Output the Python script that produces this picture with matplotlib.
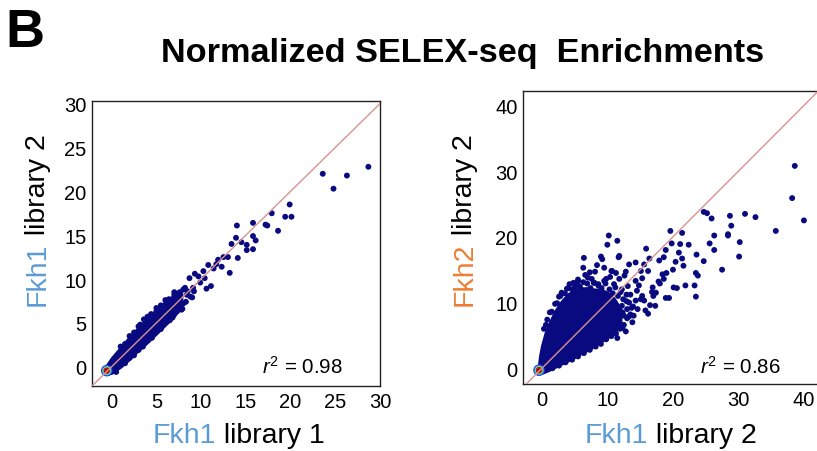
import numpy as np
import matplotlib.pyplot as plt

plt.rcParams['font.family'] = ['Liberation Sans', 'DejaVu Sans']
plt.rcParams['mathtext.fontset'] = 'custom'
plt.rcParams['mathtext.rm'] = 'Liberation Sans'
plt.rcParams['mathtext.it'] = 'Liberation Sans:italic'

# ---- data ----
# panel 1: Fkh1 library 1 (x) vs Fkh1 library 2 (y)
lib1_x = [28.7, 23.6, 26.3, 24.8, 19.9, 17.9, 19.4, 20.1, 17.2, 17.4, 18.6, 14.0,
          15.8, 13.4, 13.9, 14.5, 15.1, 15.8, 16.1, 15.8, 15.1, 14.1, 13.0, 12.5,
          11.9, 11.7, 13.2, 12.3, 11.4, 10.8, 10.25, 9.7, 8.7, 9.3, 9.9, 10.4,
          11.1, 10.6, 9.1, 8.0, 7.6, 8.4, 7.3, 6.1, 7.9, 6.9, 6.0, 5.0, 3.6,
          1.5, 2.5, 3.2, 4.4, 5.5, 6.4, 7.0, 6.5, 5.5, 4.5, 3.0, 2.0, 0.5, 7.5,
          8.3, 7.8, 8.8, 9.2, 6.8, 5.9,
          1.0, 2.0, 3.0, 4.0, 5.0, 6.0, 7.0, 1.5, 2.5, 3.5, 4.5, 5.5, 6.5, 7.3,
          8.0, 8.5, 9.0, 8.2]
lib1_y = [22.8, 22.0, 21.8, 20.3, 18.5, 17.5, 17.1, 17.1, 16.2, 16.1, 15.5, 16.1,
          16.4, 14.0, 14.7, 14.2, 13.9, 14.9, 14.4, 13.4, 13.3, 12.4, 12.5, 12.5,
          12.2, 11.7, 10.7, 11.4, 11.2, 11.6, 10.9, 10.3, 10.1, 10.6, 9.6, 10.1,
          9.2, 8.9, 9.0, 8.8, 8.5, 8.2, 7.8, 7.5, 6.6, 6.3, 6.5, 6.3, 5.4,
          2.6, 3.9, 4.8, 6.0, 7.0, 7.7, 8.2, 6.0, 4.6, 3.4, 1.9, 1.0, -0.6, 7.0,
          7.4, 6.5, 8.0, 8.6, 5.6, 5.0,
          2.3, 3.5, 4.6, 5.7, 6.7, 7.6, 8.5, 0.4, 1.3, 2.3, 3.3, 4.3, 5.3, 6.3,
          7.2, 8.6, 7.9, 9.0]
# dense core of panel 1 (lower / upper edge along x)
core1_x = [-0.8, -0.4, 0, 1, 2, 3, 4, 5, 6, 7, 7.8]
core1_lo = [-0.8, -0.8, -0.7, 0.0, 0.9, 1.9, 2.8, 3.8, 4.8, 5.8, 7.0]
core1_hi = [-0.2, 0.4, 1.0, 2.2, 3.4, 4.5, 5.5, 6.5, 7.4, 8.2, 8.4]
peak1 = (-0.55, -0.45)

# panel 2: Fkh1 library 2 (x) vs Fkh2 library 2 (y)
fkh_x = [38.6, 38.2, 40.0, 35.7, 31.0, 32.6, 28.7, 28.9, 28.4, 28.4, 30.2, 30.1,
         27.5, 24.7, 25.2, 25.9, 26.3, 25.6, 26.3, 24.7, 23.6, 23.5, 23.8, 23.5,
         23.3, 21.4, 19.6, 21.1, 22.4, 20.9, 19.8, 18.9, 18.6, 17.9, 21.4, 21.6,
         20.4, 21.9, 20.1, 18.9, 19.4, 18.4, 18.6, 17.4, 16.9, 17.3, 15.9, 16.4,
         15.6, 16.2, 15.1, 15.3, 14.3, 13.3, 14.3, 12.8, 12.6, 11.8, 13.1, 11.3,
         10.6, 10.2, 9.98, 11.5, 11.8, 11.7, 9.2, 8.4, 9.5, 10.7, 6.4, 9.0, 8.1,
         7.3, 7.6, 6.3, 5.5, 5.0, 3.8, 8.6, 9.8, 15.1, 15.8, 14.6, 14.3, 12.3,
         13.3, 11.3, 12.3, 15.3,
         14.0, 13.8, 12.8, 11.5, 16.2, 2.0, 1.2, 3.0, 4.2, 5.5, 7.0, 8.0, 9.5,
         11.0, 12.2, 13.5, 14.5, 15.6, 17.0, 14.8, 16.5, 17.8, 19.0, 20.0, 20.6,
         0.6, 2.6, 4.8, 6.6, 10.4, 12.9, 13.9, 16.8, 18.0,
         0.3, 0.8, 1.5, 2.3, 2.8, 3.5, 4.0, 4.6, 5.2, 5.8, 6.3, 6.9, 7.4, 7.9,
         8.6, 9.1, 9.7, 10.3, 10.8, 11.2, 11.6, 12.0, 12.4, 12.9, 13.3, 13.7,
         13.5, 13.0, 12.5, 11.9, 11.3, 10.6, 9.8, 9.0, 8.2, 7.3, 6.4, 5.5, 4.6,
         3.6, 2.6, 1.6, 10.5, 11.5, 12.2, 13.0, 11.0, 10.0, 12.5]
fkh_y = [30.8, 25.9, 22.5, 20.9, 23.5, 23.0, 23.2, 21.7, 20.4, 20.2, 19.2, 17.0,
         15.0, 23.8, 23.6, 22.8, 20.2, 19.0, 18.0, 16.3, 17.3, 14.5, 14.1, 10.9,
         12.6, 20.6, 20.9, 18.9, 18.8, 17.6, 19.0, 18.0, 16.9, 16.4, 16.7, 15.6,
         16.2, 12.6, 12.3, 10.7, 10.7, 14.3, 13.6, 11.5, 12.3, 9.5, 18.2, 16.7,
         15.8, 14.8, 14.8, 13.7, 13.3, 15.8, 16.1, 14.7, 14.1, 13.6, 12.5, 14.5,
         14.8, 20.2, 18.8, 19.4, 17.1, 16.9, 16.6, 15.7, 15.3, 14.8, 16.8, 17.0, 14.7,
         14.6, 13.6, 15.3, 13.2, 12.3, 12.1, 12.6, 13.6, 10.5, 8.8, 9.0, 10.3, 8.5,
         7.9, 6.7, 6.1, 11.0,
         8.0, 7.0, 5.6, 4.6, 8.3, 9.8, 8.5, 11.5, 12.8, 13.5, 13.8, 13.0, 13.3,
         12.8, 12.0, 11.2, 11.8, 10.3, 11.0, 12.6, 9.6, 13.2, 14.5, 15.0, 12.2,
         6.6, 10.9, 13.0, 14.2, 13.9, 10.2, 9.4, 11.6, 12.9,
         6.0, 7.4, 8.6, 9.9, 11.0, 11.4, 12.2, 12.0, 12.9, 12.4, 13.1, 12.9, 12.2,
         13.0, 12.8, 12.2, 12.9, 12.0, 11.4, 12.3, 11.0, 11.6, 10.5, 11.2, 10.0,
         9.2, 8.2, 7.6, 6.6, 6.0, 5.3, 4.9, 4.4, 3.7, 3.3, 2.8, 2.3, 1.8, 1.3,
         0.9, 0.4, 0.0, 9.0, 8.5, 9.5, 9.0, 7.0, 6.0, 8.0]
# dense core of panel 2
core2_x = [-0.6, -0.3, 0, 0.5, 1, 2, 3, 4, 5, 6, 7, 8, 9, 10, 11, 12]
core2_lo = [-0.6, -0.7, -0.7, -0.5, -0.3, 0.2, 0.7, 1.2, 1.7, 2.3, 2.8, 3.4, 4.1,
            4.7, 5.4, 6.8]
core2_hi = [-0.4, 2.0, 3.5, 5.3, 6.6, 8.7, 10.2, 11.3, 11.9, 12.2, 12.2, 12.0,
            12.0, 11.5, 10.6, 9.0]
peak2 = (-0.45, -0.3)

ticks1 = [0, 5, 10, 15, 20, 25, 30]
ticks2 = [0, 10, 20, 30, 40]

navy = '#0a0a80'
diag_c = '#d69490'
blue_c = '#5b9bd5'
orange_c = '#ed7d31'

W, H = 817, 452
fig = plt.figure(figsize=(W / 100, H / 100), dpi=100)


def fx(x):
    return x / W


def fy(y):
    return 1 - y / H


def panel(rect, xs, ys, cx, clo, chi, peak, ticks, lims_x, lims_y):
    ax = fig.add_axes(rect)
    ax.fill_between(cx, clo, chi, color=navy, lw=2, zorder=2)
    ax.scatter(xs, ys, s=18, color=navy, edgecolors='none', zorder=3)
    # density peak near the origin
    for s, c in [(70, '#2040e0'), (45, '#30d0e0'), (30, '#b0e040'), (22, '#b01010')]:
        ax.scatter([peak[0]], [peak[1]], s=s, color=c, edgecolors='none', zorder=4)
    ax.axline((0, 0), slope=1, color=diag_c, lw=1.0, zorder=5)
    ax.set_xlim(*lims_x)
    ax.set_ylim(*lims_y)
    ax.set_xticks(ticks)
    ax.set_yticks(ticks)
    ax.tick_params(length=0, labelsize=14.5, pad=4)
    for sp in ax.spines.values():
        sp.set_color('#222222')
        sp.set_linewidth(1.0)
    return ax


ax1 = panel([fx(92), fy(387), 288 / W, 285 / H], lib1_x, lib1_y,
            core1_x, core1_lo, core1_hi, peak1, ticks1, (-2.2, 30.0), (-2.2, 30.3))
ax2 = panel([fx(523), fy(385), 296 / W, 293 / H], fkh_x, fkh_y,
            core2_x, core2_lo, core2_hi, peak2, ticks2, (-2.9, 42.3), (-2.4, 42.2))
ax2.spines['right'].set_visible(False)

# titles
fig.text(fx(5), fy(47), 'B', fontsize=39, fontweight='bold', ha='left', va='baseline')
fig.text(fx(462.5), fy(62), 'Normalized SELEX-seq  Enrichments', fontsize=24.7,
         fontweight='bold', ha='center', va='baseline')

# axis labels with coloured protein names
lab = dict(fontsize=20.5, va='baseline')
fig.text(fx(216), fy(443), 'Fkh1', color=blue_c, ha='right', **lab)
fig.text(fx(216), fy(443), ' library 1', color='black', ha='left', **lab)
fig.text(fx(648), fy(443), 'Fkh1', color=blue_c, ha='right', **lab)
fig.text(fx(648), fy(443), ' library 2', color='black', ha='left', **lab)

rot = dict(rotation=90, rotation_mode='anchor')
fig.text(fx(45), fy(243), 'Fkh1', color=blue_c, ha='right', **rot, **lab)
fig.text(fx(45), fy(243), ' library 2', color='black', ha='left', **rot, **lab)
fig.text(fx(472), fy(243), 'Fkh2', color=orange_c, ha='right', **rot, **lab)
fig.text(fx(472), fy(243), ' library 2', color='black', ha='left', **rot, **lab)

# r^2 annotations
fig.text(fx(262), fy(374), '$r^2$ = 0.98', fontsize=14.8, ha='left', va='baseline')
fig.text(fx(700), fy(374), '$r^2$ = 0.86', fontsize=14.8, ha='left', va='baseline')

fig.savefig('out.png', dpi=100)
